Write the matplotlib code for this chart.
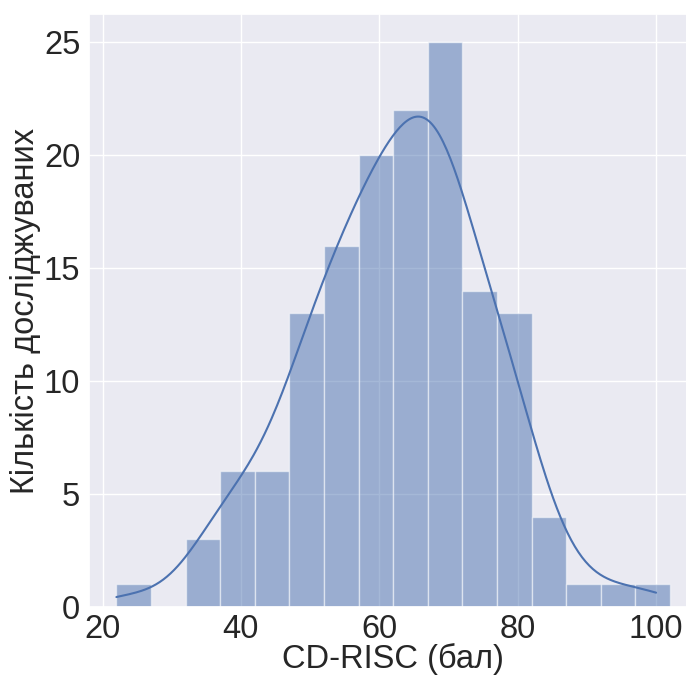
import matplotlib
matplotlib.use("Agg")
import matplotlib.pyplot as plt
import numpy as np
import seaborn as sns

# CD-RISC scores, binned by 5 points starting from 22
bin_edges = np.arange(22, 103, 5)
counts = [1, 0, 3, 6, 6, 13, 16, 20, 22, 25, 14, 13, 4, 1, 1, 1]
score_min, score_max = 22, 100

sns.set_theme(style="darkgrid")
plt.rcParams["font.family"] = ["Liberation Sans", "DejaVu Sans"]

fig = plt.figure(figsize=(6.86, 6.77), dpi=100)
# the plotting area runs slightly past the right edge of the canvas
ax = fig.add_axes([0.1293, 0.1034, 0.8876, 0.8759])

color = "#4C72B0"
widths = np.diff(bin_edges)
ax.bar(bin_edges[:-1], counts, width=widths, align="edge",
       color=color, alpha=0.5, edgecolor="white", linewidth=1)

# gaussian kde (scott bandwidth) over integer scores, each bin at its middle score
scores = bin_edges[:-1] + 2
w = np.array(counts, dtype=float)
n = w.sum()
mean = np.sum(w * scores) / n
std = np.sqrt(np.sum(w * (scores - mean) ** 2) / (n - 1))
bw = std * n ** (-1 / 5)
grid = np.linspace(score_min, score_max, 300)
dens = np.sum(w[:, None] * np.exp(-0.5 * ((grid[None, :] - scores[:, None]) / bw) ** 2), axis=0)
dens /= n * bw * np.sqrt(2 * np.pi)
ax.plot(grid, dens * n * 5, color=color, linewidth=1.5)

ax.set_xlim(18, 106)
ax.set_ylim(0, 26.25)
ax.set_xticks([20, 40, 60, 80, 100])
ax.set_yticks([0, 5, 10, 15, 20, 25])
ax.tick_params(labelsize=23.5, length=0)
ax.tick_params(axis="x", pad=5)
ax.tick_params(axis="y", pad=6)
ax.set_xlabel("CD-RISC (бал)", fontsize=23.5, labelpad=-1)
ax.set_ylabel("Кількість досліджуваних", fontsize=23.5, labelpad=2)

fig.savefig("out.png", dpi=100)
